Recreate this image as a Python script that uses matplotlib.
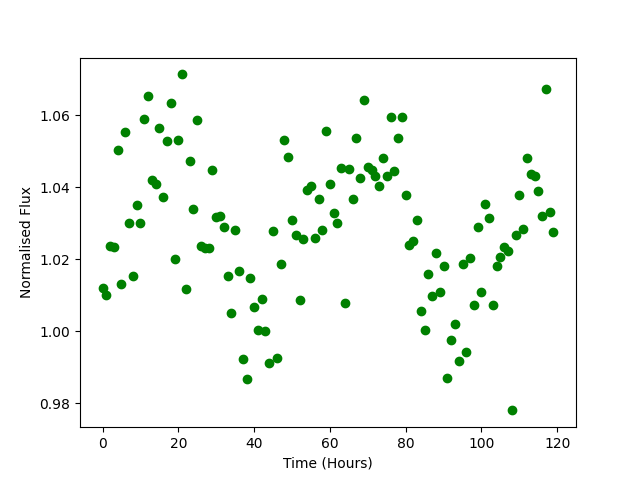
import matplotlib
matplotlib.use("Agg")
import matplotlib.pyplot as plt
import numpy as np

time_hours = list(range(120))
flux = [
    1.012, 1.010, 1.0237, 1.0233, 1.0502, 1.013, 1.0553, 1.030, 1.0152, 1.035,
    1.030, 1.0590, 1.0653, 1.0420, 1.041, 1.0565, 1.0372, 1.0528, 1.0633, 1.020,
    1.053, 1.0713, 1.0118, 1.0472, 1.034, 1.0585, 1.0237, 1.023, 1.023, 1.0448,
    1.0318, 1.032, 1.029, 1.0154, 1.005, 1.028, 1.0167, 0.9923, 0.9867, 1.0148,
    1.0067, 1.0003, 1.009, 1.000, 0.9912, 1.0277, 0.9925, 1.0187, 1.0530, 1.0485,
    1.031, 1.0268, 1.0087, 1.0257, 1.0391, 1.0404, 1.026, 1.0367, 1.028, 1.0556,
    1.041, 1.0327, 1.030, 1.0452, 1.0079, 1.045, 1.0366, 1.0536, 1.0424, 1.0642,
    1.0455, 1.0447, 1.043, 1.0404, 1.048, 1.043, 1.0594, 1.0444, 1.0536, 1.0594,
    1.0377, 1.0238, 1.0249, 1.031, 1.0056, 1.0003, 1.0160, 1.0098, 1.0218, 1.0109,
    1.0182, 0.9870, 0.9975, 1.002, 0.9917, 1.0187, 0.9942, 1.0204, 1.0073, 1.0288,
    1.011, 1.0352, 1.0313, 1.0073, 1.0182, 1.0207, 1.0235, 1.0224, 0.978, 1.0266,
    1.0377, 1.0285, 1.048, 1.0436, 1.043, 1.0388, 1.0321, 1.0672, 1.033, 1.0274,
]

fig, ax = plt.subplots(figsize=(6.4, 4.8), dpi=100)
ax.plot(time_hours, flux, 'o', color='green')
ax.set_xlabel('Time (Hours)')
ax.set_ylabel('Normalised Flux')
fig.savefig('out.png')
